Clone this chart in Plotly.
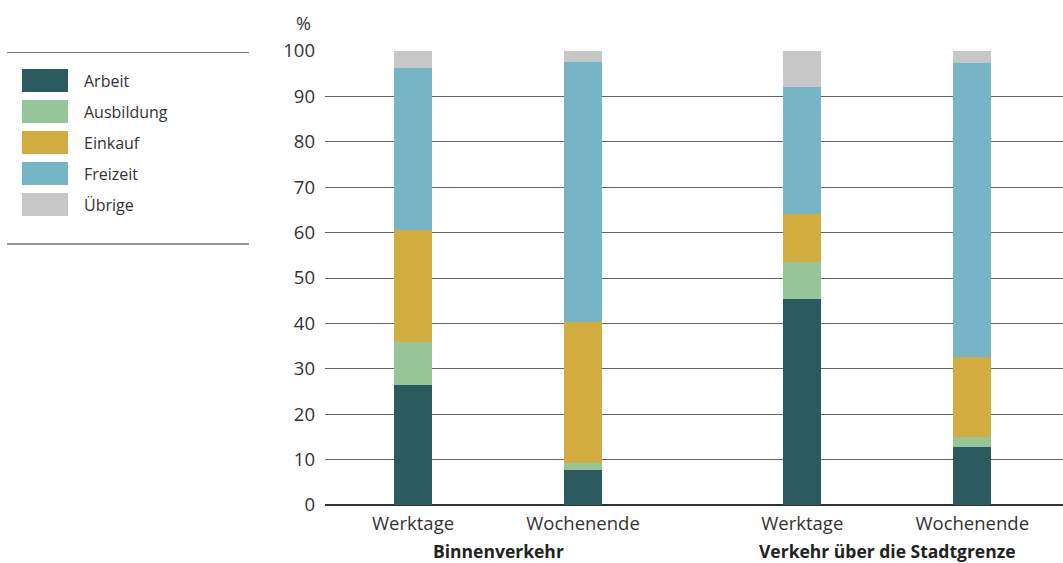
import plotly.graph_objects as go

categories = ["Werktage", "Wochenende", "Werktage", "Wochenende"]
groups = ["Binnenverkehr", "Verkehr über die Stadtgrenze"]
x_pos = [0, 1, 2.29, 3.29]

series_names = ["Arbeit", "Ausbildung", "Einkauf", "Freizeit", "Übrige"]
arbeit = [26.4, 7.7, 45.4, 12.8]
ausbildung = [9.5, 1.6, 8.1, 2.2]
einkauf = [24.7, 31.0, 10.6, 17.6]
freizeit = [35.7, 57.3, 28.0, 64.8]
uebrige = [3.7, 2.4, 7.9, 2.6]
values = [arbeit, ausbildung, einkauf, freizeit, uebrige]
colors = ["#2b5b5f", "#95c598", "#d2ac3f", "#75b5c6", "#c8c7c8"]

y_ticks = [0, 10, 20, 30, 40, 50, 60, 70, 80, 90, 100]

FONT = "'Open Sans', sans-serif"
TXT = "#333333"

fig = go.Figure()
for name, vals, col in zip(series_names, values, colors):
    fig.add_trace(go.Bar(x=x_pos, y=vals, name=name, marker=dict(color=col, line=dict(width=0)),
                         width=0.2235, showlegend=False))

L, R, T, B = 325, 0, 51, 58
W, H = 1063, 563
pw, ph = W - L - R, H - T - B

def px(x):
    return (x - L) / pw

def py(y):
    return (H - B - y) / ph

fig.update_layout(
    barmode="stack",
    width=W, height=H,
    margin=dict(l=L, r=R, t=T, b=B, pad=0),
    plot_bgcolor="white", paper_bgcolor="white",
    font=dict(family=FONT, size=18.5, color=TXT),
    xaxis=dict(range=[-0.518, 3.824], tickvals=x_pos, ticktext=categories, showgrid=False,
               zeroline=False, showline=False, ticks="", ticklabelstandoff=5,
               tickfont=dict(size=18.5, color=TXT)),
    yaxis=dict(range=[0, 100], tickvals=y_ticks, showgrid=True, gridcolor="#666666", gridwidth=1.3,
               zeroline=True, zerolinecolor="#333333", zerolinewidth=1.6, showline=False, ticks="",
               ticklabelstandoff=9, tickfont=dict(size=18.5, color=TXT)),
    bargap=0,
)

# group labels
for g, xc in zip(groups, [(x_pos[0] + x_pos[1]) / 2, (x_pos[2] + x_pos[3]) / 2]):
    fig.add_annotation(x=xc, y=py(551), xref="x", yref="paper", text="<b>" + g + "</b>",
                       showarrow=False, font=dict(size=17.5, color="#222222"), yanchor="middle")

# % label
fig.add_annotation(x=px(313), y=py(23), xref="paper", yref="paper", text="%", showarrow=False,
                   xanchor="right", yanchor="middle", font=dict(size=18, color=TXT))

# legend
shapes = []
shapes.append(dict(type="line", xref="paper", yref="paper", x0=px(7), x1=px(249), y0=py(52.5), y1=py(52.5),
                   line=dict(color="#777777", width=1.2)))
shapes.append(dict(type="line", xref="paper", yref="paper", x0=px(7), x1=px(249), y0=py(244), y1=py(244),
                   line=dict(color="#333333", width=1.2)))
top0 = 69
for i, (name, col) in enumerate(zip(series_names, colors)):
    y0 = top0 + i * 31
    shapes.append(dict(type="rect", xref="paper", yref="paper", x0=px(22), x1=px(68),
                       y0=py(y0), y1=py(y0 + 23), fillcolor=col, line=dict(width=0)))
    fig.add_annotation(x=px(82), y=py(y0 + 11.5), xref="paper", yref="paper", text=name,
                       showarrow=False, xanchor="left", yanchor="middle",
                       font=dict(size=16, color=TXT))
fig.update_layout(shapes=shapes)

fig.write_html("out.html")
